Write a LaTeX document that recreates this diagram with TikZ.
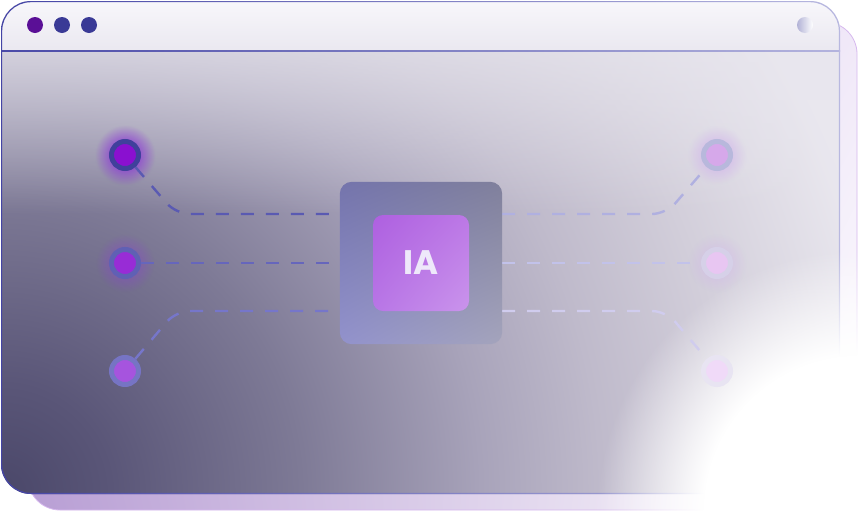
\documentclass[tikz,border=0pt]{standalone}
\usepackage{fontspec}
\newfontfamily\poppins{Poppins}
\usetikzlibrary{fadings,shadings}
\definecolor{tlpurple}{HTML}{5A0F96}
\definecolor{tlblue}{HTML}{3A3A96}
\definecolor{cardUL}{HTML}{C8B0E2}
\definecolor{cardUR}{HTML}{F0E8F8}
\definecolor{cardLL}{HTML}{B89ED4}
\definecolor{cardBorder}{HTML}{D6B8EE}
\definecolor{titleTop}{HTML}{F8F7FB}
\definecolor{titleBot}{HTML}{EAE8F0}
\definecolor{topFade}{HTML}{E8E6EE}
\definecolor{sepL}{HTML}{4A4AA8}
\definecolor{sepR}{HTML}{B4B4DE}
\definecolor{brdL}{HTML}{4444A5}
\definecolor{brdR}{HTML}{B8B8E0}
\definecolor{trL}{HTML}{B2B2D6}
\definecolor{bg0}{HTML}{4A4769}
\definecolor{bg1}{HTML}{5A5678}
\definecolor{bg2}{HTML}{7E7A96}
\definecolor{bg3}{HTML}{A8A3BA}
\definecolor{bg4}{HTML}{BFBACB}
\definecolor{bg5}{HTML}{D2CEDA}
\definecolor{bg6}{HTML}{EAE8EF}
\definecolor{glowA}{HTML}{8A30D8}
\definecolor{glowB}{HTML}{8A40D0}
\definecolor{glowC}{HTML}{D0B0EC}
\definecolor{ringA}{HTML}{40409C}\definecolor{inA}{HTML}{8A10D0}
\definecolor{ringB}{HTML}{6060B4}\definecolor{inB}{HTML}{982CD6}
\definecolor{ringC}{HTML}{7674C4}\definecolor{inC}{HTML}{A654DE}
\definecolor{ringD}{HTML}{B8B8DC}\definecolor{inD}{HTML}{D6A8EA}
\definecolor{ringE}{HTML}{D6D0E8}\definecolor{inE}{HTML}{E8C6F2}
\definecolor{ringF}{HTML}{E8E4F2}\definecolor{inF}{HTML}{F0DAF8}
\definecolor{lnA}{HTML}{5A5AB2}
\definecolor{lnB}{HTML}{6666BC}
\definecolor{lnC}{HTML}{7676CA}
\definecolor{lnD}{HTML}{B0B0E0}
\definecolor{lnE}{HTML}{C2C2EA}
\definecolor{lnF}{HTML}{D0CCEE}
\definecolor{boxUL}{HTML}{7474AC}
\definecolor{boxUR}{HTML}{80809C}
\definecolor{boxLL}{HTML}{9292CC}
\definecolor{boxLR}{HTML}{A4A4BC}
\definecolor{coreUL}{HTML}{AE60E0}
\definecolor{coreUR}{HTML}{BC78E6}
\definecolor{coreLL}{HTML}{B876E6}
\definecolor{coreLR}{HTML}{CA94EC}
\definecolor{coreText}{HTML}{EEE8FA}
% radial shadings: 25bp = half-size of the shaded path
\pgfdeclareradialshading{bodyrad}{\pgfpoint{0bp}{0bp}}{color(0bp)=(bg0); color(2.75bp)=(bg1); color(7.5bp)=(bg2); color(12bp)=(bg3); color(15bp)=(bg4); color(18.25bp)=(bg5); color(22.5bp)=(bg6); color(50bp)=(bg6)}
\pgfdeclareradialshading{wfshade}{\pgfpoint{0bp}{0bp}}{color(0bp)=(white); color(7.4bp)=(white); color(12.5bp)=(black); color(50bp)=(black)}
\pgfdeclarefading{whitefade}{\pgfuseshading{wfshade}}
\pgfdeclareradialshading{glshade}{\pgfpoint{0bp}{0bp}}{color(0bp)=(white); color(6.5bp)=(white); color(13bp)=(black); color(50bp)=(black)}
\pgfdeclarefading{glowfade}{\pgfuseshading{glshade}}
\tikzfading[name=topfadeF, top color=transparent!5, bottom color=transparent!100]
\tikzset{
  conn/.style={line width=2.4pt, dash pattern=on 13pt off 12pt, rounded corners=14pt},
  dot/.style={circle, inner sep=0pt, minimum size=16pt},
  ring/.style={circle, inner sep=0pt, minimum size=27pt, line width=5pt},
}
\begin{document}
\begin{tikzpicture}[x=1pt,y=-1pt]
\useasboundingbox (0,0) rectangle (858,512);
% back card
\shade[upper left=cardUL, upper right=cardUR, lower left=cardLL, lower right=white,
       rounded corners=32pt] (28,22) rectangle (857,510);
\draw[draw=cardBorder, line width=0.8pt, rounded corners=32pt] (28,22) rectangle (857,510);
% window body
\begin{scope}
  \clip[rounded corners=30pt] (1,1) rectangle (840,494);
  \shade[shading=bodyrad] (-999,-506) rectangle (1001,1494);
  \fill[topFade, path fading=topfadeF] (0,-4) rectangle (841,214);
  \shade[top color=titleTop, bottom color=titleBot] (0,0) rectangle (841,51);
\end{scope}
% separator
\shade[left color=sepL, right color=sepR] (1,50.4) rectangle (840,51.6);
% window border ring
\shade[left color=brdL, right color=brdR, even odd rule]
  [rounded corners=30pt] (1,1) rectangle (840,494)
  [rounded corners=28.8pt] (2.2,2.2) rectangle (838.8,492.8);
% white wash bottom right
\fill[white, path fading=whitefade] (338,-10) rectangle (1378,1030);
% traffic lights
\node[dot, fill=tlpurple] (tl1) at (35,25) {};
\node[dot, fill=tlblue] (tl2) at (62,25) {};
\node[dot, fill=tlblue] (tl3) at (89,25) {};
\node[dot, left color=trL, right color=white] (tr) at (805,25) {};
% glows
\fill[glowA, path fading=glowfade, fill opacity=0.6] (67,97) rectangle (183,213);
\fill[glowB, path fading=glowfade, fill opacity=0.35] (69,207) rectangle (181,319);
\fill[glowC, path fading=glowfade, fill opacity=0.5] (661,99) rectangle (773,211);
\fill[glowC, path fading=glowfade, fill opacity=0.3] (661,207) rectangle (773,319);
% nodes
\node[ring, draw=ringA, fill=inA] (l1) at (125,155) {};
\node[ring, draw=ringB, fill=inB] (l2) at (125,263) {};
\node[ring, draw=ringC, fill=inC] (l3) at (125,371) {};
\node[ring, draw=ringD, fill=inD] (r1) at (717,155) {};
\node[ring, draw=ringE, fill=inE] (r2) at (717,263) {};
\node[ring, draw=ringF, fill=inF] (r3) at (717,371) {};
% center box (named, filled after the connectors)
\node[minimum size=162pt, inner sep=0pt] (box) at (421,263) {};
% connectors
\coordinate (c1l) at (176,214); \coordinate (c1r) at (666,214);
\coordinate (c3l) at (176,311); \coordinate (c3r) at (666,311);
\draw[conn, draw=lnA] (l1) -- (c1l) -- (c1l -| box.west);
\draw[conn, draw=lnB] (l2) -- (l2 -| box.west);
\draw[conn, draw=lnC] (l3) -- (c3l) -- (c3l -| box.west);
\draw[conn, draw=lnD] (c1r -| box.east) -- (c1r) -- (r1);
\draw[conn, draw=lnE] (r2 -| box.east) -- (r2);
\draw[conn, draw=lnF] (c3r -| box.east) -- (c3r) -- (r3);
% box drawn over connectors
\shade[rounded corners=12pt, upper left=boxUL, upper right=boxUR, lower left=boxLL, lower right=boxLR]
      (box.south west) rectangle (box.north east);
\node[rounded corners=10pt, minimum size=96pt, inner sep=0pt, shade,
      upper left=coreUL, upper right=coreUR, lower left=coreLL, lower right=coreLR,
      text=coreText, font=\poppins\bfseries\fontsize{34}{34}\selectfont] (core) at (421,263) {IA};
\end{tikzpicture}
\end{document}
